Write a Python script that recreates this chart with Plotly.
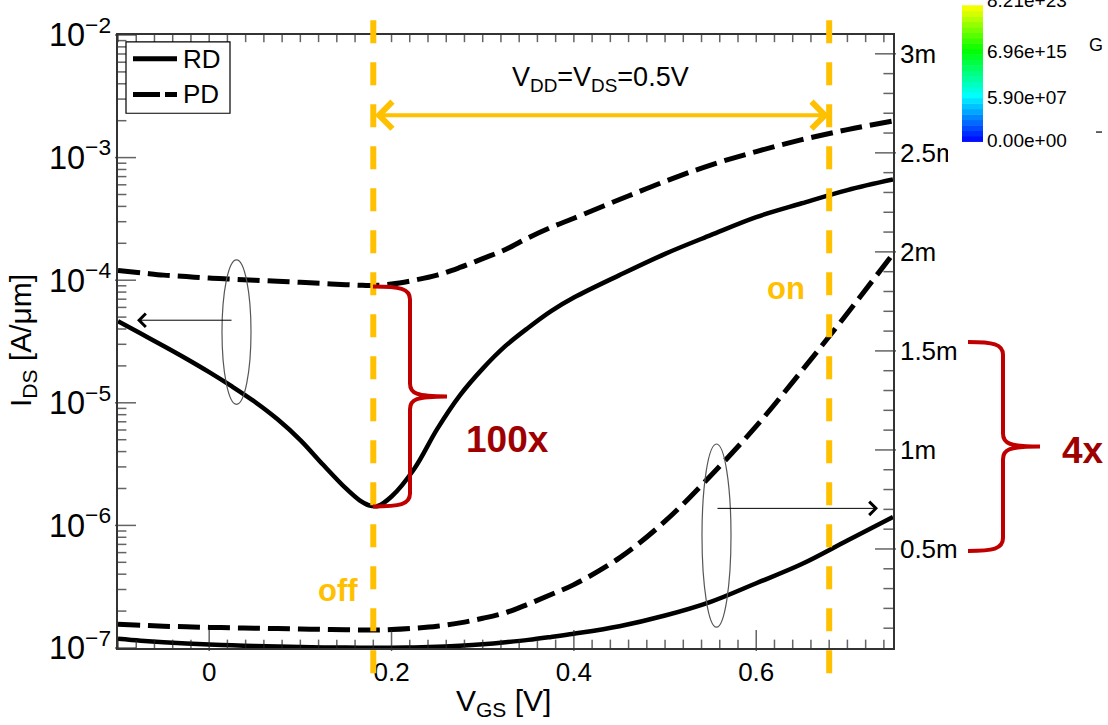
import math
import plotly.graph_objects as go

# Drain current per width (A/um) versus gate voltage for the two devices
vgs = [-0.1, -0.075, -0.05, -0.025, 0.0, 0.025, 0.05, 0.075, 0.1, 0.125, 0.15,
       0.165, 0.175, 0.185, 0.2, 0.225, 0.25, 0.275, 0.3, 0.325, 0.35, 0.375,
       0.4, 0.45, 0.5, 0.55, 0.6, 0.65, 0.7, 0.75]
i_rd = [4.63e-5, 3.67e-5, 2.91e-5, 2.29e-5, 1.78e-5, 1.36e-5, 1.02e-5, 7.34e-6,
        4.97e-6, 3.12e-6, 2.0e-6, 1.6e-6, 1.46e-6, 1.44e-6, 1.72e-6, 2.9e-6,
        6.1e-6, 1.15e-5, 1.9e-5, 2.91e-5, 4.1e-5, 5.6e-5, 7.22e-5, 1.1e-4,
        1.64e-4, 2.33e-4, 3.27e-4, 4.24e-4, 5.43e-4, 6.62e-4]
i_pd = [1.2e-4, 1.15e-4, 1.1e-4, 1.07e-4, 1.04e-4, 1.02e-4, 1.0e-4, 9.8e-5,
        9.6e-5, 9.4e-5, 9.2e-5, 9.1e-5, 9.05e-5, 9.1e-5, 9.3e-5, 1.0e-4,
        1.1e-4, 1.27e-4, 1.5e-4, 1.78e-4, 2.22e-4, 2.7e-4, 3.2e-4, 4.55e-4,
        6.4e-4, 8.7e-4, 1.12e-3, 1.4e-3, 1.69e-3, 1.99e-3]

v_off, v_on = 0.18, 0.68

x_ticks = [0, 0.2, 0.4, 0.6]
x_labels = ["0", "0.2", "0.4", "0.6"]
lin_ticks = [0.5e-3, 1.0e-3, 1.5e-3, 2.0e-3, 2.5e-3, 3.0e-3]
lin_labels = ["0.5m", "1m", "1.5m", "2m", "2.5m", "3m"]
cbar_labels = ["8.21e+23", "6.96e+15", "5.90e+07", "0.00e+00"]

W, H = 1108, 725
L, R, T, B = 118, 893, 29, 648          # plot-area edges (page pixels)
PW, PH = R - L, B - T
X_RANGE = [-0.1, 0.75]
LOG_RANGE = [-7, -2]
LIN_RANGE = [0, 3.095e-3]
ORANGE = "#FFC000"
RED = "#C00000"
DARKRED = "#9E0000"
AX = "#222222"
FONT = "Liberation Sans, Arial, Helvetica, sans-serif"


def px(x):
    return (x - L) / PW


def py(y):
    return (B - y) / PH


def path(cmds):
    """Build an SVG path in paper units from commands given in page pixels."""
    out = []
    for c in cmds:
        op, pts = c[0], c[1:]
        out.append(op + " ".join(f"{px(x):.5f},{py(y):.5f}" for x, y in pts))
    return " ".join(out)


def brace(x_end, y_top, y_bot, x_spine, x_tip, r=13):
    ym = (y_top + y_bot) / 2
    return path([
        ("M", (x_end, y_top)),
        ("C", (x_spine - 10, y_top), (x_spine, y_top + 2), (x_spine, y_top + r)),
        ("L", (x_spine, ym - r)),
        ("C", (x_spine, ym - 3), (x_spine + 6, ym), (x_tip, ym)),
        ("M", (x_tip, ym)),
        ("C", (x_spine + 6, ym), (x_spine, ym + 3), (x_spine, ym + r)),
        ("L", (x_spine, y_bot - r)),
        ("C", (x_spine, y_bot - 2), (x_spine - 10, y_bot), (x_end, y_bot)),
    ])


def label(x, y, text, size, color="black", **kw):
    d = dict(xref="paper", yref="paper", x=px(x), y=py(y), text=text,
             showarrow=False, xanchor="center", yanchor="middle",
             font=dict(size=size, color=color))
    d.update(kw)
    return d


fig = go.Figure()
styles = {"RD": dict(dash="solid", width=4.5), "PD": dict(dash="22px,8px", width=5)}
for name, cur in (("RD", i_rd), ("PD", i_pd)):
    st = styles[name]
    ln = dict(color="black", width=st["width"], dash=st["dash"], shape="spline", smoothing=1.0)
    fig.add_trace(go.Scatter(x=vgs, y=cur, name=name, mode="lines", line=ln,
                             showlegend=False, yaxis="y"))
    fig.add_trace(go.Scatter(x=vgs, y=cur, name=name, mode="lines", line=ln,
                             showlegend=False, yaxis="y2"))

# inward tick marks as short line markers on a unit-height helper axis (y5)
dx = (X_RANGE[1] - X_RANGE[0]) / PW          # V_GS units per pixel
vx, vy, vs = [], [], []                       # vertical ticks (bottom/top)
hx, hy, hs = [], [], []                       # horizontal ticks (left/right)

for k in range(43):
    v = round(X_RANGE[0] + 0.02 * k, 2)
    n = 15 if v in x_ticks else 7
    vx += [v, v]
    vy += [n / 2 / PH, 1 - 3 / PH]
    vs += [n, 6]
for e in range(LOG_RANGE[0], LOG_RANGE[1] + 1):
    for m in range(1, 10):
        if e == LOG_RANGE[1] and m > 1:
            break
        yv = (math.log10(m) + e - LOG_RANGE[0]) / (LOG_RANGE[1] - LOG_RANGE[0])
        n = 15 if m == 1 else 7
        hx.append(X_RANGE[0] + n / 2 * dx)
        hy.append(yv)
        hs.append(n)
for k in range(1, 31):
    yv = (k * 1e-4 - LIN_RANGE[0]) / (LIN_RANGE[1] - LIN_RANGE[0])
    n = 15 if k % 5 == 0 else 8
    hx.append(X_RANGE[1] - n / 2 * dx)
    hy.append(yv)
    hs.append(n)

for xs, ys, ss, sym in ((vx, vy, vs, "line-ns-open"), (hx, hy, hs, "line-ew-open")):
    fig.add_trace(go.Scatter(x=xs, y=ys, mode="markers", yaxis="y5", showlegend=False,
                             hoverinfo="skip", cliponaxis=False,
                             marker=dict(symbol=sym, size=ss, color=AX,
                                         line=dict(color=AX, width=1.5))))

shapes = []
# supply window markers
for v in (v_off, v_on):
    shapes.append(dict(type="line", xref="x", yref="paper", x0=v, x1=v,
                       y0=py(14), y1=py(692), layer="above",
                       line=dict(color=ORANGE, width=6, dash="23px,19px")))
# braces
shapes.append(dict(type="path", xref="paper", yref="paper", layer="above",
                   path=brace(373, 283, 505, 410, 447),
                   line=dict(color=RED, width=4)))
shapes.append(dict(type="path", xref="paper", yref="paper", layer="above",
                   path=brace(968, 339, 550, 1003, 1040),
                   line=dict(color=RED, width=4)))
# grouping ellipses
shapes.append(dict(type="circle", xref="paper", yref="paper", layer="above",
                   x0=px(222), x1=px(251), y0=py(402), y1=py(256),
                   line=dict(color="#555555", width=1.2)))
shapes.append(dict(type="circle", xref="paper", yref="paper", layer="above",
                   x0=px(702), x1=px(731), y0=py(627), y1=py(442),
                   line=dict(color="#555555", width=1.2)))
# legend box with line samples
shapes.append(dict(type="rect", xref="paper", yref="paper", layer="above",
                   x0=px(126), x1=px(230), y0=py(108), y1=py(36),
                   fillcolor="white", line=dict(color="black", width=1.2)))
shapes.append(dict(type="line", xref="paper", yref="paper", layer="above",
                   x0=px(133), x1=px(177), y0=py(53), y1=py(53),
                   line=dict(color="black", width=5)))
shapes.append(dict(type="line", xref="paper", yref="paper", layer="above",
                   x0=px(133), x1=px(177), y0=py(89), y1=py(89),
                   line=dict(color="black", width=5, dash="27px,5px")))
# colour bar strip in the corner
shapes.append(dict(type="rect", xref="paper", yref="paper", layer="above",
                   x0=px(948), x1=px(1110), y0=py(160), y1=py(-2),
                   fillcolor="white", line=dict(width=0)))
stops = [(0.0, (0, 0, 255)), (0.34, (0, 255, 255)), (0.67, (0, 255, 0)), (1.0, (255, 255, 0))]


def cmap(t):
    for (t0, c0), (t1, c1) in zip(stops[:-1], stops[1:]):
        if t <= t1:
            f = (t - t0) / (t1 - t0)
            return "rgb(%d,%d,%d)" % tuple(round(a + (b - a) * f) for a, b in zip(c0, c1))
    return "rgb(255,255,0)"


cb_top, cb_bot, band = 0, 137, 5.5
y = cb_bot
while y > cb_top:
    y2 = max(cb_top - 2, y - band)
    t = (cb_bot - (y + y2) / 2) / (cb_bot - cb_top)
    shapes.append(dict(type="rect", xref="paper", yref="paper", layer="above",
                       x0=px(962), x1=px(983), y0=py(y), y1=py(y2 - 0.5),
                       fillcolor=cmap(t), line=dict(width=0)))
    y = y2
shapes.append(dict(type="line", xref="paper", yref="paper", layer="above",
                   x0=px(1096), x1=px(1102), y0=py(127), y1=py(127),
                   line=dict(color="#333333", width=1.5)))

ann = []
ann.append(label(181, 53, "RD", 26, xanchor="left"))
ann.append(label(181, 89, "PD", 26, xanchor="left"))
ann.append(label(600, 73, "V<sub>DD</sub>=V<sub>DS</sub>=0.5V", 27))
ann.append(dict(xref="x", yref="paper", x=v_on, y=py(110), ax=v_off, axref="x",
                ay=0, ayref="pixel", text="", showarrow=True, arrowside="end+start",
                arrowhead=4, startarrowhead=4, arrowsize=1.3, startarrowsize=1.3,
                arrowwidth=4, arrowcolor=ORANGE, standoff=0, startstandoff=0))
ann.append(label(338, 590, "<b>off</b>", 31, ORANGE))
ann.append(label(786, 285, "<b>on</b>", 31, ORANGE))
ann.append(label(508, 437, "<b>100x</b>", 37, DARKRED))
ann.append(label(1083, 449, "<b>4x</b>", 37, DARKRED))
# axis-pointer arrows
ann.append(dict(xref="paper", yref="paper", x=px(137), y=py(317), ax=96, ay=0,
                text="", showarrow=True, arrowhead=4, arrowsize=2.6, arrowwidth=1,
                arrowcolor="black", standoff=0))
ann.append(dict(xref="paper", yref="paper", x=px(878), y=py(507), ax=-162, ay=0,
                text="", showarrow=True, arrowhead=4, arrowsize=2.6, arrowwidth=1,
                arrowcolor="black", standoff=0))
# axis titles
ann.append(label(503, 703, "V<sub>GS</sub> [V]", 30))
ann.append(label(22, 338, "I<sub>DS</sub> [A/\u03bcm]", 30, textangle=-90))
# colour bar labels
for lab, yy in zip(cbar_labels, (-6, 46, 92, 136)):
    ann.append(label(985, yy, lab, 19, xanchor="left"))
ann.append(label(1096, 39, "G", 18))

axline = dict(showline=True, linecolor="#333333", linewidth=1.5, ticks="",
              showgrid=False, zeroline=False)

fig.update_layout(
    width=W, height=H,
    margin=dict(l=L, r=W - R, t=T, b=H - B),
    paper_bgcolor="white", plot_bgcolor="white",
    font=dict(family=FONT, size=26, color="black"),
    showlegend=False,
    xaxis=dict(range=X_RANGE, tickmode="array", tickvals=x_ticks, ticktext=x_labels,
               mirror=True, **axline),
    yaxis=dict(type="log", range=LOG_RANGE, dtick=1, exponentformat="power",
               showexponent="all", **axline),
    yaxis2=dict(overlaying="y", side="right", anchor="x", range=LIN_RANGE,
                tickmode="array", tickvals=lin_ticks, ticktext=lin_labels, **axline),
    yaxis5=dict(overlaying="y", anchor="x", range=[0, 1], visible=False),
    shapes=shapes,
    annotations=ann,
)

fig.write_html("out.html")
